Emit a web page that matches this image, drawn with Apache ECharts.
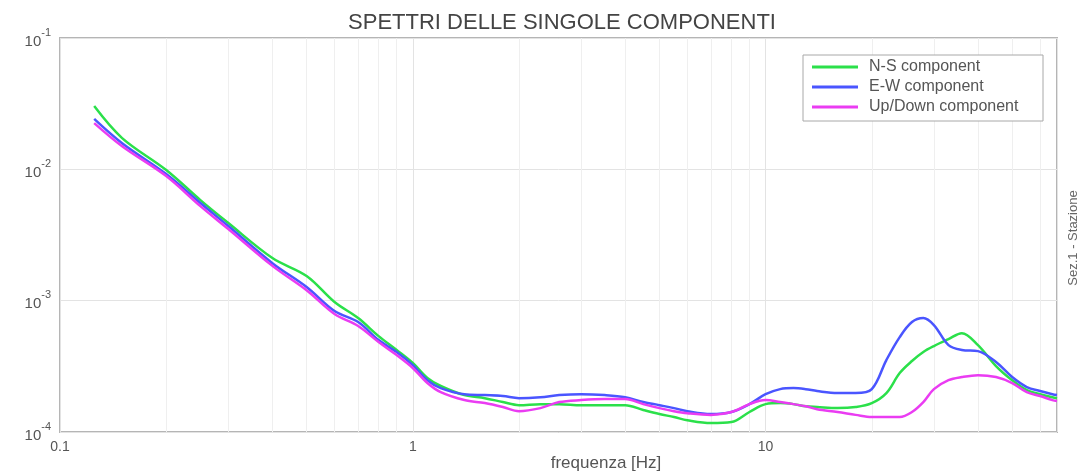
<!DOCTYPE html>
<html>
<head>
<meta charset="utf-8">
<script src="https://cdn.jsdelivr.net/npm/echarts@6/dist/echarts.min.js"></script>
<style>
  html, body { margin: 0; padding: 0; background: #fff; }
  #chart { width: 1085px; height: 474px; }
</style>
</head>
<body>
<div id="chart"></div>
<script>
// Frequencies (Hz) at which the spectra are sampled
const freq = [0.125, 0.15, 0.2, 0.25, 0.3, 0.4, 0.5, 0.6, 0.7, 0.8, 0.9, 1.0, 1.1, 1.2, 1.4, 1.6, 1.8, 2.0, 2.3, 2.6,
  3.0, 3.5, 4.0, 4.5, 5, 5.5, 6, 7, 8, 9, 10, 11, 12, 13, 14, 16, 18, 20, 22, 24,
  26, 28, 30, 33, 36, 40, 45, 50, 55, 60, 65, 67];

// Spectral amplitude, N-S component
const nsComp = [0.0303, 0.0173, 0.00988, 0.00583, 0.00390, 0.00211, 0.00154, 0.000976, 0.000737, 0.000537,
  0.000421, 0.000335, 0.000258, 0.000224, 0.000191, 0.000181, 0.000169, 0.000160, 0.000163, 0.000163,
  0.000160, 0.000160, 0.000160, 0.000147, 0.000137, 0.000130, 0.000123, 0.000117, 0.000119, 0.000142,
  0.000163, 0.000166, 0.000163, 0.000157, 0.000155, 0.000152, 0.000155, 0.000166, 0.000198, 0.000281,
  0.000347, 0.000406, 0.000451, 0.000510, 0.000566, 0.000459, 0.000318, 0.000248, 0.000208, 0.000194,
  0.000184, 0.000181];

// Spectral amplitude, E-W component
const ewComp = [0.0242, 0.0158, 0.00921, 0.00554, 0.00370, 0.00193, 0.00127, 0.000834, 0.000687, 0.000501,
  0.000406, 0.000323, 0.000248, 0.000216, 0.000194, 0.000191, 0.000188, 0.000181, 0.000184, 0.000191,
  0.000194, 0.000191, 0.000184, 0.000169, 0.000160, 0.000152, 0.000144, 0.000137, 0.000142, 0.000163,
  0.000194, 0.000212, 0.000216, 0.000212, 0.000205, 0.000198, 0.000198, 0.000212, 0.000353, 0.000528,
  0.000687, 0.000737, 0.000652, 0.000459, 0.000421, 0.000413, 0.000341, 0.000262, 0.000220, 0.000205,
  0.000194, 0.000191];

// Spectral amplitude, vertical component
const udComp = [0.0225, 0.0150, 0.00889, 0.00525, 0.00351, 0.00184, 0.00120, 0.000791, 0.000641, 0.000484,
  0.000385, 0.000307, 0.000236, 0.000201, 0.000175, 0.000166, 0.000155, 0.000144, 0.000152, 0.000169,
  0.000175, 0.000178, 0.000178, 0.000163, 0.000152, 0.000144, 0.000139, 0.000135, 0.000142, 0.000163,
  0.000175, 0.000169, 0.000163, 0.000157, 0.000149, 0.000142, 0.000135, 0.000130, 0.000130, 0.000130,
  0.000142, 0.000169, 0.000212, 0.000248, 0.000262, 0.000271, 0.000262, 0.000236, 0.000201, 0.000188,
  0.000175, 0.000172];

const seriesNames = ['N-S component', 'E-W component', 'Up/Down component'];
const seriesColors = ['#2be04a', '#4a55ff', '#ea3cf2'];

// Minor log-decade grid positions on the frequency axis
const minorFreqTicks = [0.2, 0.3, 0.4, 0.5, 0.6, 0.7, 0.8, 0.9, 2, 3, 4, 5, 6, 7, 8, 9, 20, 30, 40, 50, 60];

const freqRange = [0.1, 67];
const ampRange = [0.0001, 0.1];

const titleText = 'SPETTRI DELLE SINGOLE COMPONENTI';
const xAxisName = 'frequenza [Hz]';
const sideLabel = 'Sez.1 - Stazione';

function pairs(vals) {
  return freq.map((f, i) => [f, vals[i]]);
}

function isDecade(v) {
  const e = Math.log10(v);
  return Math.abs(e - Math.round(e)) < 1e-6;
}

const chart = echarts.init(document.getElementById('chart'), null, { renderer: 'canvas' });

const series = [{
  // minor vertical grid lines, kept beneath the spectra
  name: '_minorGrid',
  type: 'line',
  data: [],
  silent: true,
  z: 0,
  markLine: {
    z: 0,
    silent: true,
    symbol: 'none',
    animation: false,
    label: { show: false },
    emphasis: { disabled: true },
    lineStyle: { color: '#efefef', width: 1, type: 'solid' },
    data: minorFreqTicks.map(f => ({ xAxis: f }))
  }
}].concat([nsComp, ewComp, udComp].map((vals, i) => ({
  name: seriesNames[i],
  type: 'line',
  data: pairs(vals),
  showSymbol: false,
  smooth: 0.35,
  z: 3 + i,
  lineStyle: { color: seriesColors[i], width: 2.5 },
  itemStyle: { color: seriesColors[i] }
})));

chart.setOption({
  animation: false,
  backgroundColor: '#ffffff',
  title: {
    text: titleText,
    left: 557,
    top: 7,
    textAlign: 'center',
    textStyle: { fontFamily: 'Liberation Sans', fontSize: 22, fontWeight: 'normal', color: '#444' }
  },
  grid: {
    left: 60, right: 28, top: 38, bottom: 42,
    show: true,
    borderColor: '#b5b5b5',
    borderWidth: 2,
    backgroundColor: 'transparent'
  },
  legend: {
    data: seriesNames,
    orient: 'vertical',
    left: 812,
    top: 58,
    z: 100,
    itemGap: 2,
    itemWidth: 46,
    itemHeight: 3,
    icon: 'rect',
    padding: 0,
    textStyle: { fontFamily: 'Liberation Sans', fontSize: 16, color: '#555', lineHeight: 18, padding: [0, 0, 0, 6] }
  },
  xAxis: {
    type: 'log',
    logBase: 10,
    min: freqRange[0],
    max: freqRange[1],
    axisLine: { show: false },
    axisTick: { show: false },
    axisLabel: {
      margin: 8,
      color: '#555',
      fontFamily: 'Liberation Sans',
      fontSize: 14,
      showMaxLabel: false,
      formatter: v => isDecade(v) ? String(Number(v.toPrecision(3))) : ''
    },
    splitLine: { show: true, lineStyle: { color: '#e3e3e3', width: 1 } }
  },
  yAxis: {
    type: 'log',
    logBase: 10,
    min: ampRange[0],
    max: ampRange[1],
    axisLine: { show: false },
    axisTick: { show: false },
    axisLabel: {
      margin: 9,
      color: '#555',
      fontFamily: 'Liberation Sans',
      formatter: v => '{b|10}{s|' + Math.round(Math.log10(v)) + '}',
      rich: {
        b: { fontSize: 15, color: '#555', fontFamily: 'Liberation Sans', lineHeight: 22, verticalAlign: 'bottom' },
        s: { fontSize: 11, color: '#555', fontFamily: 'Liberation Sans', lineHeight: 22, verticalAlign: 'top' }
      }
    },
    splitLine: { show: true, lineStyle: { color: '#e3e3e3', width: 1 } }
  },
  graphic: [
    {
      type: 'rect',
      shape: { x: 803, y: 55, width: 240, height: 66 },
      style: { fill: '#fff', stroke: '#a8a8a8', lineWidth: 1 },
      z: 50
    },
    {
      type: 'text',
      x: 606, y: 463,
      style: {
        text: xAxisName, fill: '#555', fontSize: 17, fontFamily: 'Liberation Sans',
        textAlign: 'center', textVerticalAlign: 'middle'
      }
    },
    {
      type: 'text',
      x: 1073, y: 238,
      rotation: Math.PI / 2,
      style: {
        text: sideLabel, fill: '#666', fontSize: 13, fontFamily: 'Liberation Sans',
        textAlign: 'center', textVerticalAlign: 'middle'
      }
    }
  ],
  series: series
});
</script>
</body>
</html>
